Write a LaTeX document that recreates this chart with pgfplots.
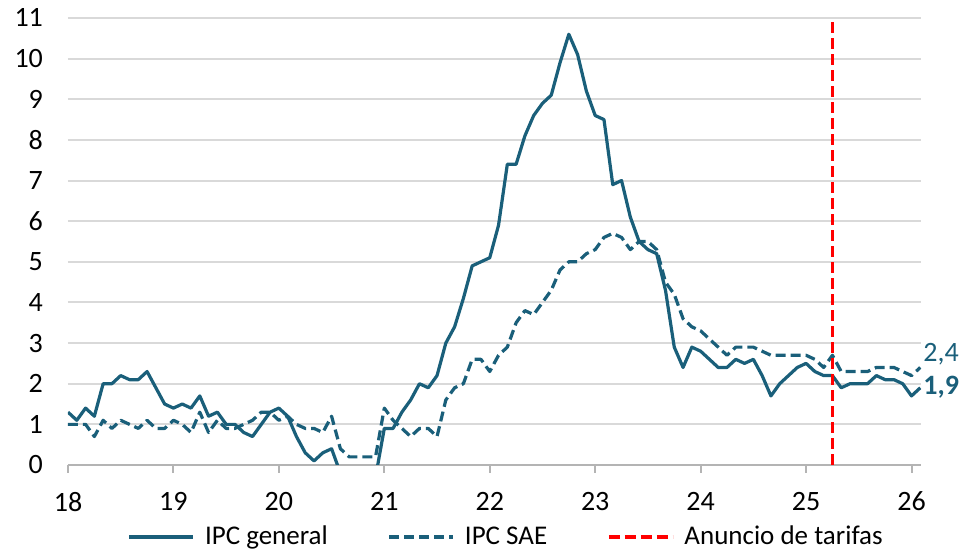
\documentclass[border=0pt]{standalone}
\usepackage{pgfplots}
\pgfplotsset{compat=1.18}
\usepackage{pgfplotstable}
\usepackage{fontspec}
\setmainfont{Carlito}
\definecolor{teal1}{RGB}{26,95,122}
\definecolor{gridg}{RGB}{217,217,217}
\definecolor{axg}{RGB}{180,180,180}

\pgfplotstableread{
g c
1.3 1.0
1.1 1.0
1.4 1.0
1.2 0.7
2.0 1.1
2.0 0.9
2.2 1.1
2.1 1.0
2.1 0.9
2.3 1.1
1.9 0.9
1.5 0.9
1.4 1.1
1.5 1.0
1.4 0.8
1.7 1.3
1.2 0.8
1.3 1.1
1.0 0.9
1.0 0.9
0.8 1.0
0.7 1.1
1.0 1.3
1.3 1.3
1.4 1.1
1.2 1.2
0.7 1.0
0.3 0.9
0.1 0.9
0.3 0.8
0.4 1.2
-0.2 0.4
-0.3 0.2
-0.3 0.2
-0.3 0.2
-0.3 0.2
0.9 1.4
0.9 1.1
1.3 0.9
1.6 0.7
2.0 0.9
1.9 0.9
2.2 0.7
3.0 1.6
3.4 1.9
4.1 2.0
4.9 2.6
5.0 2.6
5.1 2.3
5.9 2.7
7.4 2.9
7.4 3.5
8.1 3.8
8.6 3.7
8.9 4.0
9.1 4.3
9.9 4.8
10.6 5.0
10.1 5.0
9.2 5.2
8.6 5.3
8.5 5.6
6.9 5.7
7.0 5.6
6.1 5.3
5.5 5.5
5.3 5.5
5.2 5.3
4.3 4.5
2.9 4.2
2.4 3.6
2.9 3.4
2.8 3.3
2.6 3.1
2.4 2.9
2.4 2.7
2.6 2.9
2.5 2.9
2.6 2.9
2.2 2.8
1.7 2.7
2.0 2.7
2.2 2.7
2.4 2.7
2.5 2.7
2.3 2.6
2.2 2.4
2.2 2.7
1.9 2.3
2.0 2.3
2.0 2.3
2.0 2.3
2.2 2.4
2.1 2.4
2.1 2.4
2.0 2.3
1.7 2.2
1.9 2.4
}\data

\begin{document}
\begin{tikzpicture}
\begin{axis}[
  at={(34pt,42.5pt)}, anchor=south west,
  scale only axis, width=426.5pt, height=223.5pt,
  xmin=18, xmax=26.09, ymin=0, ymax=11,
  xtick={18,19,...,26}, ytick={0,1,...,11},
  axis x line*=bottom, axis y line*=left,
  y axis line style={draw=none},
  x axis line style={draw=axg, line width=1pt},
  xtick style={draw=axg, line width=1pt},
  ytick style={draw=none},
  tick align=outside, major tick length=4pt,
  ymajorgrids, grid style={draw=gridg, line width=1pt},
  /pgf/number format/assume math mode=true,
  ticklabel style={font=\fontsize{14}{16}\selectfont, text=black},
  xticklabel style={yshift=-6pt},
  yticklabel style={xshift=-5pt},
  clip=true,
  legend columns=3,
  legend style={at={(0.515,-0.161)}, anchor=center, draw=none, fill=none,
    font=\fontsize{13.5}{15}\selectfont, column sep=3pt,
    /tikz/every even column/.append style={column sep=28pt}},
  legend image code/.code={\draw[#1] (0pt,0pt) -- (32pt,0pt);},
]
\addplot[teal1, line width=1.6pt, line join=round] table[x expr=18+\coordindex/12, y=g] {\data};
\addlegendentry{IPC general}
\addplot[teal1, line width=1.6pt, dash pattern=on 5pt off 2.5pt, line join=round] table[x expr=18+\coordindex/12, y=c] {\data};
\addlegendentry{IPC SAE}
\addplot[red, line width=1.6pt, dash pattern=on 5.5pt off 2.5pt] coordinates {(25.25,0) (25.25,11)};
\addlegendentry{Anuncio de tarifas}
\end{axis}
\begin{axis}[
  at={(34pt,42.5pt)}, anchor=south west,
  scale only axis, width=426.5pt, height=223.5pt,
  xmin=18, xmax=26.09, ymin=0, ymax=11,
  axis lines=none, clip=false, ticks=none]
\node[anchor=west, text=teal1, inner sep=1pt, font=\fontsize{14}{16}\selectfont] at (axis cs:26.09,2.72) {2,4};
\node[anchor=west, text=teal1, inner sep=1pt, font=\fontsize{14}{16}\selectfont\bfseries] at (axis cs:26.09,1.92) {1,9};
\end{axis}
\pgfresetboundingbox
\path[use as bounding box] (0,0) rectangle (480pt,275pt);
\end{tikzpicture}
\end{document}
